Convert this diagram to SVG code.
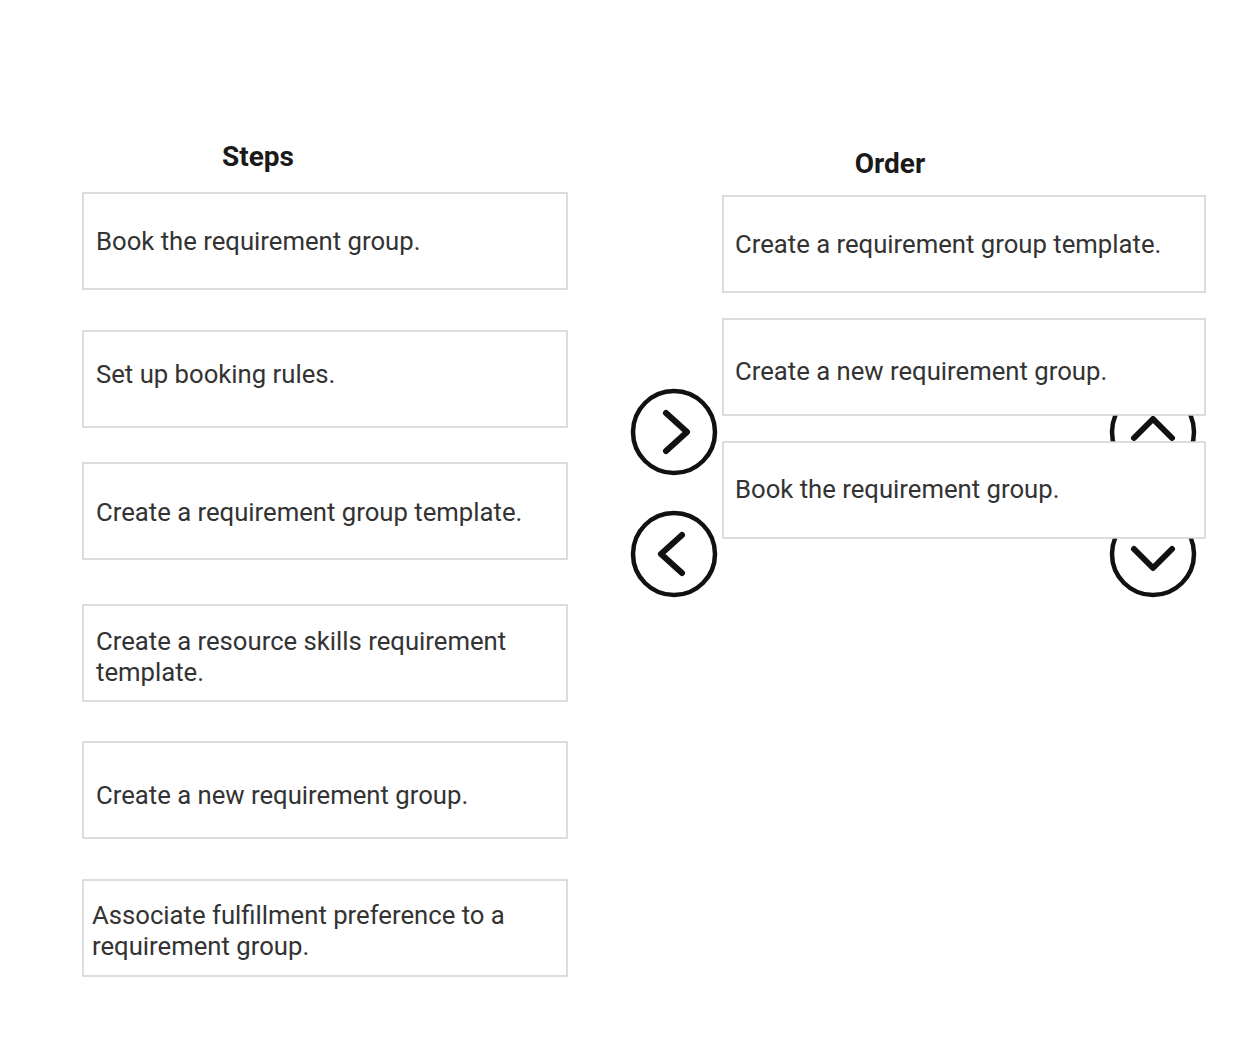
<svg xmlns="http://www.w3.org/2000/svg" width="1250" height="1038" viewBox="0 0 1250 1038">
<style>
.box{fill:#ffffff;stroke:#d2d2d2;stroke-width:1.5}
.t{font-family:Roboto,"Liberation Sans",sans-serif;font-size:25.7px;fill:#333333}
.h{font-family:Roboto,"Liberation Sans",sans-serif;font-size:28px;font-weight:bold;fill:#1a1a1a;text-anchor:middle}
.ring{fill:none;stroke:#111;stroke-width:4.5}
.chev{fill:none;stroke:#111;stroke-width:6;stroke-linecap:round;stroke-linejoin:round}
</style>
<rect width="1250" height="1038" fill="#ffffff"/>
<text class="h" x="258" y="166">Steps</text>
<text class="h" x="890" y="173">Order</text>

<g id="btn-right"><circle class="ring" cx="674" cy="432" r="41"/><path class="chev" d="M666 413 L687 432 L666 451"/></g>
<g id="btn-left"><circle class="ring" cx="674" cy="554" r="41"/><path class="chev" d="M682 535 L661 554 L682 573"/></g>
<g id="btn-up"><circle class="ring" cx="1153" cy="432" r="41"/><path class="chev" d="M1134 438 L1153 419 L1172 438"/></g>
<g id="btn-down"><circle class="ring" cx="1153" cy="554" r="41"/><path class="chev" d="M1134 549 L1153 568 L1172 549"/></g>

<g id="step1"><rect class="box" x="83" y="193" width="484" height="96"/><text class="t" x="96" y="250">Book the requirement group.</text></g>
<g id="step2"><rect class="box" x="83" y="331" width="484" height="96"/><text class="t" x="96" y="383">Set up booking rules.</text></g>
<g id="step3"><rect class="box" x="83" y="463" width="484" height="96"/><text class="t" x="96" y="521">Create a requirement group template.</text></g>
<g id="step4"><rect class="box" x="83" y="605" width="484" height="96"/><text class="t" x="96" y="650">Create a resource skills requirement</text><text class="t" x="96" y="681">template.</text></g>
<g id="step5"><rect class="box" x="83" y="742" width="484" height="96"/><text class="t" x="96" y="804">Create a new requirement group.</text></g>
<g id="step6"><rect class="box" x="83" y="880" width="484" height="96"/><text class="t" x="92" y="924">Associate fulfillment preference to a</text><text class="t" x="92" y="955">requirement group.</text></g>

<g id="order1"><rect class="box" x="723" y="196" width="482" height="96"/><text class="t" x="735" y="253">Create a requirement group template.</text></g>
<g id="order2"><rect class="box" x="723" y="319" width="482" height="96"/><text class="t" x="735" y="380">Create a new requirement group.</text></g>
<g id="order3"><rect class="box" x="723" y="442" width="482" height="96"/><text class="t" x="735" y="498">Book the requirement group.</text></g>

<g id="connectors"></g>
</svg>
